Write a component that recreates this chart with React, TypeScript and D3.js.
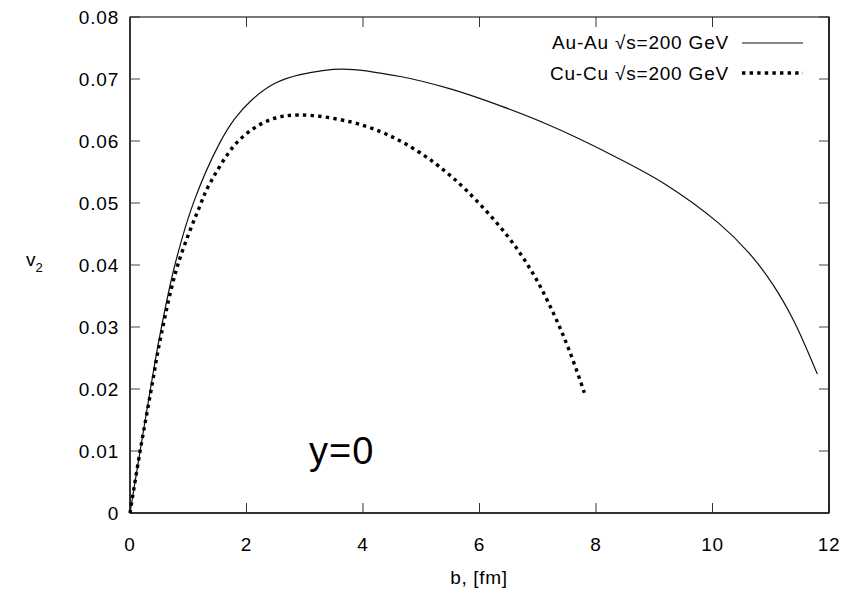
import React from "react";
import * as d3 from "d3";

const auB = [0, 0.17, 0.36, 0.52, 0.77, 1.1, 1.53, 1.8, 2.1, 2.49, 2.92, 3.66, 4.64, 5.5, 6.35, 7.21, 8.07, 9.16, 10.1, 10.64, 11.04, 11.39, 11.8];
const auV = [0, 0.0098, 0.0205, 0.029, 0.04, 0.0503, 0.0595, 0.0636, 0.0667, 0.0693, 0.0707, 0.0716, 0.0704, 0.0684, 0.0657, 0.0625, 0.0587, 0.0532, 0.0468, 0.0418, 0.0368, 0.0311, 0.0224];

const cuB = [0, 0.17, 0.36, 0.53, 0.82, 1.22, 1.34, 1.86, 2.4, 2.92, 3.78, 4.3, 4.64, 4.98, 5.32, 5.78, 6.47, 6.92, 7.27, 7.55, 7.8];
const cuV = [0, 0.0098, 0.0197, 0.0285, 0.04, 0.05, 0.0526, 0.06, 0.0634, 0.0642, 0.0631, 0.0615, 0.06, 0.0581, 0.0558, 0.052, 0.0448, 0.0386, 0.0322, 0.026, 0.0194];

const xTicks = [0, 2, 4, 6, 8, 10, 12];
const yTicks = [0, 0.01, 0.02, 0.03, 0.04, 0.05, 0.06, 0.07, 0.08];
const legendLabels = ["Au-Au \u221As=200 GeV", "Cu-Cu \u221As=200 GeV"];

const W = 865;
const H = 605;
const L = 130, R = 829, T = 17, B = 513;
const FONT = "'Liberation Sans', Arial, Helvetica, sans-serif";

export default function App() {
  const x = d3.scaleLinear().domain([0, 12]).range([L, R]);
  const y = d3.scaleLinear().domain([0, 0.08]).range([B, T]);
  const line = d3
    .line<[number, number]>()
    .x((d) => x(d[0]))
    .y((d) => y(d[1]))
    .curve(d3.curveCatmullRom.alpha(0.5));
  const au: [number, number][] = auB.map((b, i) => [b, auV[i]]);
  const cu: [number, number][] = cuB.map((b, i) => [b, cuV[i]]);

  return (
    <svg
      width={W}
      height={H}
      style={{ position: "absolute", left: 0, top: 0, background: "#fff" }}
      fontFamily={FONT}
    >
      <rect x={0} y={0} width={W} height={H} fill="#fff" />
      {xTicks.map((t) => (
        <g key={"x" + t}>
          <line x1={x(t)} x2={x(t)} y1={B} y2={B - 10} stroke="#333" strokeWidth={1} />
          <line x1={x(t)} x2={x(t)} y1={T} y2={T + 10} stroke="#333" strokeWidth={1} />
          <text x={x(t)} y={551} textAnchor="middle" fontSize={19} letterSpacing={0.8} fill="#000">
            {t}
          </text>
        </g>
      ))}
      {yTicks.map((t) => (
        <g key={"y" + t}>
          <line x1={L} x2={L + 10} y1={y(t)} y2={y(t)} stroke="#444" strokeWidth={1} />
          <line x1={R} x2={R - 10} y1={y(t)} y2={y(t)} stroke="#444" strokeWidth={1} />
          <text x={119} y={y(t) + 6.8} textAnchor="end" fontSize={19} letterSpacing={0.8} fill="#000">
            {t === 0 ? "0" : t.toFixed(2)}
          </text>
        </g>
      ))}
      <rect x={L} y={T} width={R - L} height={B - T} fill="none" stroke="#222" strokeWidth={1.2} />
      <line x1={L} x2={L} y1={T} y2={B} stroke="#333" strokeWidth={2} />
      <line x1={L} x2={R} y1={B} y2={B} stroke="#333" strokeWidth={2} />
      <line x1={R} x2={R} y1={T} y2={B} stroke="#222" strokeWidth={1.8} />

      <path d={line(au) || ""} fill="none" stroke="#111" strokeWidth={1.2} />
      <path d={line(cu) || ""} fill="none" stroke="#000" strokeWidth={3.4} strokeDasharray="3.4,4.2" />

      <text x={729} y={49} textAnchor="end" fontSize={19} letterSpacing={0.8} fill="#000">
        {legendLabels[0]}
      </text>
      <line x1={742} x2={803} y1={43} y2={43} stroke="#111" strokeWidth={1.2} />
      <text x={729} y={80} textAnchor="end" fontSize={19} letterSpacing={0.8} fill="#000">
        {legendLabels[1]}
      </text>
      <line x1={742} x2={803} y1={73} y2={73} stroke="#000" strokeWidth={3.4} strokeDasharray="3.4,4.2" />

      <text x={309} y={464} fontSize={38} letterSpacing={1} fill="#000">
        y=0
      </text>

      <text x={479} y={584} textAnchor="middle" fontSize={19} letterSpacing={0.7} fill="#000">
        b, [fm]
      </text>
      <text x={26} y={266} fontSize={19} fill="#000">
        v
        <tspan fontSize={13} dy={6}>2</tspan>
      </text>
    </svg>
  );
}
